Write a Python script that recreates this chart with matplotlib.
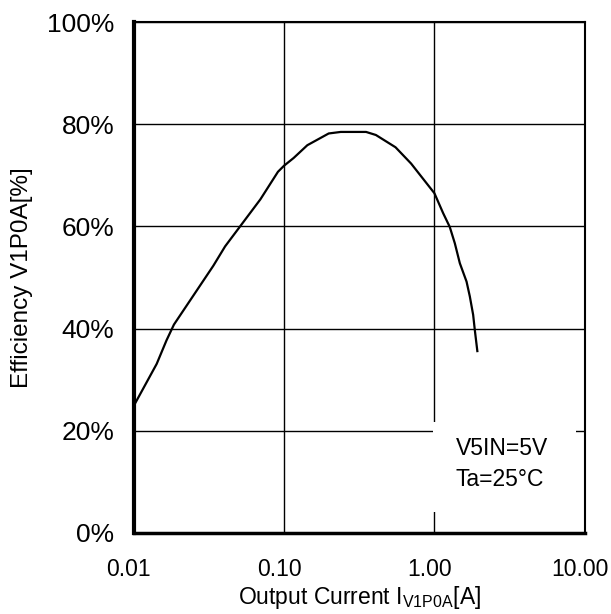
import matplotlib
matplotlib.use('Agg')
import matplotlib.pyplot as plt
import matplotlib.transforms as mtransforms
from matplotlib.patches import Rectangle
from matplotlib.ticker import FixedLocator, NullLocator

plt.rcParams['font.family'] = ['Liberation Sans', 'DejaVu Sans']

# efficiency curve
current = [0.01, 0.0142, 0.0165, 0.0185, 0.0338, 0.0405, 0.0695, 0.091, 0.1,
           0.1157, 0.1427, 0.198, 0.238, 0.351, 0.408, 0.551, 0.70, 1.0,
           1.143, 1.265, 1.367, 1.476, 1.636, 1.72, 1.81, 1.857, 1.93]
efficiency = [24.9, 33.1, 37.7, 40.8, 52.3, 56.1, 65.3, 70.7, 71.9,
              73.4, 75.9, 78.2, 78.5, 78.5, 77.9, 75.5, 72.3, 66.5,
              62.6, 59.9, 56.7, 52.8, 49.2, 46.3, 42.7, 39.7, 35.6]

x_ticks = [0.01, 0.1, 1, 10]
x_labels = ['0.01', '0.10', '1.00', '10.00']
y_ticks = [0, 20, 40, 60, 80, 100]
y_labels = ['0%', '20%', '40%', '60%', '80%', '100%']

fig = plt.figure(figsize=(6.11, 6.14), dpi=100)
ax = fig.add_axes([0.219, 0.132, 0.738, 0.832])

ax.plot(current, efficiency, color='black', lw=1.6, zorder=3)
ax.set_xscale('log')
ax.set_xlim(0.01, 10)
ax.set_ylim(0, 100)

ax.xaxis.set_major_locator(FixedLocator(x_ticks))
ax.xaxis.set_minor_locator(NullLocator())
ax.set_xticklabels(x_labels, fontsize=16.5)
ax.set_yticks(y_ticks)
ax.set_yticklabels(y_labels, fontsize=19)
ax.tick_params(length=0)
ax.tick_params(axis='x', pad=18)
ax.tick_params(axis='y', pad=14)

# x tick labels sit a little left of their grid lines in the reference
shift = mtransforms.ScaledTranslation(-0.05, 0, fig.dpi_scale_trans)
for lab in ax.get_xticklabels():
    lab.set_transform(lab.get_transform() + shift)

ax.grid(True, color='black', lw=1.0)

for side in ['top', 'right']:
    ax.spines[side].set_linewidth(1.5)
ax.spines['left'].set_linewidth(3)
ax.spines['bottom'].set_linewidth(2.5)

# white box under the condition text
ax.add_patch(Rectangle((0.664, 0.041), 0.316, 0.176, transform=ax.transAxes,
                       facecolor='white', edgecolor='none', zorder=1.8))
ax.text(0.714, 0.166, 'V5IN=5V', transform=ax.transAxes, fontsize=16.5,
        va='center', ha='left', zorder=4)
ax.text(0.714, 0.104, 'Ta=25°C', transform=ax.transAxes, fontsize=16.5,
        va='center', ha='left', zorder=4)

ax.set_xlabel(r'Output Current I$_{\mathregular{V1P0A}}$[A]', fontsize=16.5, labelpad=2)
ax.set_ylabel('Efficiency V1P0A[%]', fontsize=17.5, labelpad=10)

fig.savefig('out.png', dpi=100)
